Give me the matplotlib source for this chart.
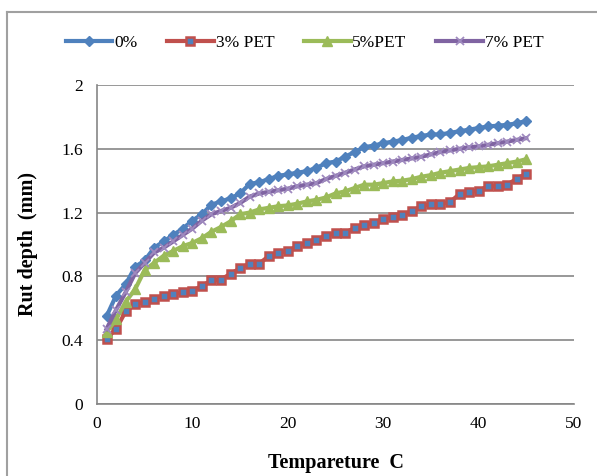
import matplotlib
matplotlib.use("Agg")
import matplotlib.pyplot as plt
from matplotlib.lines import Line2D

temperature = list(range(1, 46))

pet_0 = [0.55, 0.68, 0.75, 0.86, 0.90, 0.98, 1.02, 1.06, 1.10, 1.15,
         1.19, 1.25, 1.27, 1.29, 1.32, 1.38, 1.39, 1.41, 1.43, 1.44,
         1.45, 1.46, 1.48, 1.51, 1.52, 1.55, 1.58, 1.61, 1.62, 1.635,
         1.645, 1.655, 1.67, 1.68, 1.69, 1.69, 1.70, 1.71, 1.72, 1.73,
         1.74, 1.745, 1.75, 1.76, 1.775]

pet_3 = [0.41, 0.47, 0.58, 0.625, 0.64, 0.66, 0.68, 0.69, 0.70, 0.71,
         0.74, 0.775, 0.78, 0.817, 0.85, 0.88, 0.88, 0.927, 0.948, 0.958,
         0.99, 1.01, 1.03, 1.055, 1.069, 1.073, 1.104, 1.125, 1.135, 1.16,
         1.173, 1.1875, 1.208, 1.24, 1.254, 1.256, 1.265, 1.317, 1.329, 1.3375,
         1.365, 1.365, 1.375, 1.4125, 1.444]

pet_5 = [0.45, 0.53, 0.64, 0.72, 0.84, 0.885, 0.93, 0.96, 0.99, 1.01,
         1.04, 1.08, 1.11, 1.145, 1.19, 1.20, 1.22, 1.23, 1.24, 1.245,
         1.256, 1.27, 1.28, 1.295, 1.32, 1.333, 1.354, 1.375, 1.375, 1.385,
         1.396, 1.40, 1.41, 1.425, 1.435, 1.45, 1.46, 1.47, 1.48, 1.485,
         1.49, 1.50, 1.51, 1.52, 1.535]

pet_7 = [0.47, 0.59, 0.70, 0.82, 0.885, 0.95, 0.98, 1.02, 1.06, 1.10,
         1.15, 1.19, 1.21, 1.23, 1.26, 1.30, 1.32, 1.33, 1.34, 1.35,
         1.365, 1.375, 1.385, 1.41, 1.43, 1.45, 1.47, 1.49, 1.50, 1.51,
         1.52, 1.53, 1.54, 1.55, 1.565, 1.58, 1.59, 1.60, 1.61, 1.615,
         1.625, 1.635, 1.645, 1.656, 1.667]

series_labels = ["0%", "3% PET", "5%PET", "7% PET"]
x_ticks = [0, 10, 20, 30, 40, 50]
y_ticks = [0, 0.4, 0.8, 1.2, 1.6, 2.0]
y_tick_labels = ["0", "0.4", "0.8", "1.2", "1.6", "2"]

plt.rcParams['font.family'] = ['Liberation Serif', 'DejaVu Serif']

fig = plt.figure(figsize=(5.97, 4.76), dpi=100)
ax = fig.add_axes([97/597, 1-404/476, (574-97)/597, (404-85)/476])

blue, red, green, purple = "#4F81BD", "#C0504D", "#9BBB59", "#8064A2"
lw = 3.0
ax.plot(temperature, pet_0, color=blue, lw=lw, marker="D", ms=5, mfc=blue, mec=blue,
        label=series_labels[0], zorder=3)
ax.plot(temperature, pet_3, color=red, lw=lw, marker="s", ms=6, mfc=blue, mec=red, mew=1.8,
        label=series_labels[1], zorder=3)
ax.plot(temperature, pet_5, color=green, lw=lw, marker="^", ms=7, mfc=green, mec=green,
        label=series_labels[2], zorder=3)
ax.plot(temperature, pet_7, color=purple, lw=lw, marker="x", ms=6, mec="#9F8ABF", mew=1.3,
        label=series_labels[3], zorder=3)

ax.set_xlim(0, 50)
ax.set_ylim(0, 2)
ax.set_xticks(x_ticks)
ax.set_yticks(y_ticks)
ax.set_yticklabels(y_tick_labels)
ax.tick_params(axis="both", length=0, labelsize=12.5)
ax.tick_params(axis="x", pad=9)
ax.tick_params(axis="y", pad=10)
ax.grid(axis="y", color="#868686", lw=1.2)
ax.set_axisbelow(True)
for s in ["top", "right"]:
    ax.spines[s].set_visible(False)
for s in ["left", "bottom"]:
    ax.spines[s].set_color("#868686")
    ax.spines[s].set_linewidth(1.2)

ax.set_xlabel("Tempareture  C", fontsize=14.5, fontweight="bold", labelpad=15)
ax.set_ylabel("Rut depth  (mm)", fontsize=14.5, fontweight="bold", labelpad=17)

fig.legend(loc="center", bbox_to_anchor=(0.51, 1-43/476), ncol=4, frameon=False,
           fontsize=12.5, handlelength=2.7, handletextpad=0.1, columnspacing=1.7)

# outer frame
fig.add_artist(Line2D([7/597, 7/597], [0, 1-12/476], color="#A0A0A0", lw=1.5,
                      transform=fig.transFigure))
fig.add_artist(Line2D([7/597, 1], [1-12/476, 1-12/476], color="#A0A0A0", lw=1.5,
                      transform=fig.transFigure))

fig.savefig("out.png", dpi=100)
